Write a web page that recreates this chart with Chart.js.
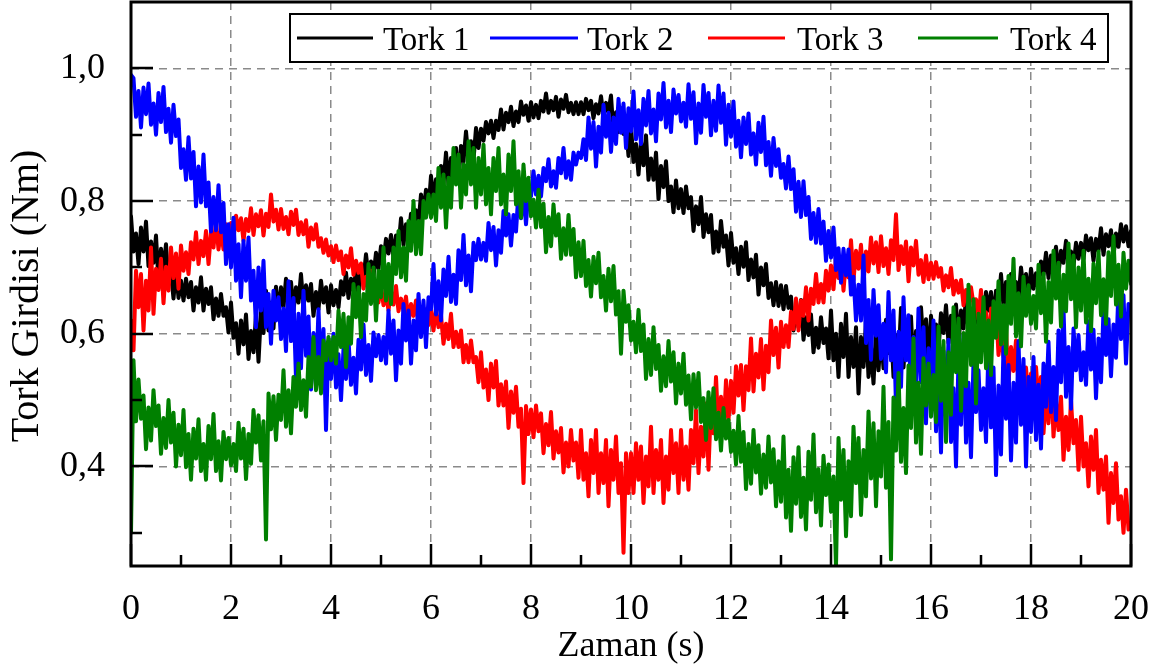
<!DOCTYPE html>
<html>
<head>
<meta charset="utf-8">
<title>Tork Girdisi</title>
<script src="https://cdn.jsdelivr.net/npm/chart.js@4.4.0/dist/chart.umd.min.js"></script>
<style>
  html, body { margin: 0; padding: 0; background: #fff; }
  #kutu { width: 1165px; height: 671px; }
</style>
</head>
<body>
<div id="kutu"><canvas id="torkGrafik" width="1165" height="671"></canvas></div>
<script>
// Örnekleme aralığı (s): her dizi 0 - 20 s arasında 0,05 s adımla okunmuş değerler (her satır 1 s)
const ornekAraligi = 0.05;

const seriAdlari = ['Tork 1', 'Tork 2', 'Tork 3', 'Tork 4'];
const seriRenkleri = ['#000000', '#0000ff', '#ff0000', '#008000'];

// Tork 1 (Nm)
const tork1 = [
  .777,.724,.751,.705,.76,.724,.769,.702,.739,.707,.748,.678,.728,.696,.735,.675,.692,.653,.696,.654,
  .68,.65,.683,.655,.678,.635,.67,.647,.685,.635,.668,.645,.67,.622,.653,.627,.66,.627,.64,.602,
  .647,.594,.616,.57,.62,.584,.629,.562,.604,.572,.628,.558,.633,.601,.665,.605,.647,.608,.671,.629,
  .67,.64,.683,.655,.678,.635,.67,.647,.69,.64,.673,.65,.675,.627,.663,.637,.68,.647,.67,.632,
  .673,.643,.666,.64,.679,.659,.692,.654,.683,.665,.696,.656,.70,.682,.72,.686,.709,.687,.722,.698,
  .732,.708,.743,.721,.749,.715,.748,.73,.774,.734,.765,.747,.781,.743,.786,.766,.81,.784,.817,.787,
  .838,.80,.833,.80,.853,.827,.873,.825,.865,.842,.88,.83,.883,.86,.905,.862,.89,.862,.91,.88,
  .909,.891,.919,.902,.921,.895,.921,.907,.938,.908,.933,.919,.942,.913,.935,.919,.95,.93,.944,.921,
  .949,.926,.945,.925,.951,.935,.962,.933,.951,.937,.957,.927,.953,.939,.96,.934,.948,.931,.949,.931,
  .949,.931,.954,.937,.951,.925,.946,.932,.958,.928,.948,.934,.959,.902,.934,.904,.94,.901,.913,.868,
  .912,.859,.886,.84,.89,.854,.899,.832,.864,.832,.873,.803,.853,.821,.86,.80,.822,.783,.831,.789,
  .818,.782,.822,.789,.806,.755,.792,.765,.806,.746,.78,.753,.779,.722,.754,.724,.77,.731,.748,.703,
  .752,.707,.729,.69,.731,.701,.738,.681,.712,.685,.719,.659,.70,.673,.705,.654,.676,.643,.678,.642,
  .673,.637,.672,.639,.656,.605,.637,.61,.651,.591,.625,.598,.629,.572,.609,.579,.625,.586,.608,.563,
  .635,.56,.60,.535,.615,.565,.63,.535,.595,.55,.61,.51,.595,.55,.62,.535,.58,.525,.605,.545,
  .602,.548,.621,.571,.612,.535,.598,.557,.639,.549,.608,.567,.626,.54,.604,.558,.64,.581,.622,.554,
  .627,.582,.614,.575,.631,.601,.643,.586,.627,.60,.644,.584,.635,.608,.655,.604,.636,.603,.648,.612,
  .65,.62,.663,.635,.663,.62,.665,.642,.69,.64,.678,.655,.69,.642,.678,.652,.70,.667,.69,.652,
  .698,.668,.691,.665,.709,.689,.722,.684,.718,.70,.731,.691,.725,.707,.74,.706,.724,.702,.737,.713,
  .737,.713,.748,.726,.744,.71,.743,.725,.759,.719,.75,.732,.756,.718,.751,.731,.765,.739,.762,.732,
  .755
];

// Tork 2 (Nm)
const tork2 = [
  .99,.985,.927,.966,.911,.971,.931,.977,.915,.947,.90,.963,.919,.972,.904,.939,.888,.945,.898,.923,
  .85,.878,.832,.896,.834,.874,.792,.852,.798,.87,.792,.828,.754,.806,.756,.824,.753,.797,.705,.765,
  .70,.775,.68,.735,.655,.74,.68,.745,.65,.695,.61,.70,.635,.71,.61,.66,.585,.665,.62,.655,
  .592,.638,.574,.679,.589,.654,.532,.63,.548,.665,.567,.626,.516,.601,.526,.637,.535,.607,.455,.588,
  .532,.60,.519,.569,.50,.577,.532,.591,.523,.564,.51,.591,.546,.614,.538,.583,.529,.602,.566,.598,
  .56,.595,.555,.635,.57,.62,.53,.605,.555,.645,.59,.635,.555,.62,.575,.66,.595,.65,.58,.655,
  .637,.705,.629,.679,.62,.697,.657,.716,.648,.689,.645,.726,.681,.749,.673,.718,.664,.737,.711,.743,
  .712,.737,.71,.767,.726,.761,.703,.756,.722,.785,.748,.78,.733,.779,.754,.814,.774,.813,.765,.818,
  .807,.845,.81,.838,.807,.85,.83,.863,.822,.845,.82,.865,.842,.88,.835,.86,.832,.873,.855,.873,
  .865,.893,.862,.926,.879,.919,.852,.912,.873,.945,.897,.933,.874,.926,.886,.954,.903,.947,.88,.94,
  .905,.965,.893,.937,.886,.954,.914,.966,.902,.938,.89,.962,.923,.978,.911,.951,.904,.968,.932,.96,
  .92,.948,.912,.976,.924,.964,.887,.947,.903,.975,.927,.963,.899,.951,.906,.974,.918,.962,.885,.945,
  .897,.95,.882,.921,.866,.926,.886,.932,.87,.902,.855,.918,.874,.927,.854,.889,.838,.895,.853,.878,
  .835,.856,.819,.867,.818,.848,.784,.829,.776,.83,.779,.806,.743,.782,.737,.788,.736,.769,.71,.755,
  .715,.76,.696,.729,.677,.728,.688,.727,.659,.686,.62,.674,.62,.718,.586,.651,.561,.666,.597,.643,
  .562,.615,.542,.663,.56,.635,.49,.603,.52,.655,.56,.628,.497,.595,.51,.638,.527,.61,.465,.578,
  .485,.62,.453,.552,.421,.574,.474,.591,.437,.518,.40,.562,.463,.598,.436,.526,.414,.558,.482,.545,
  .455,.518,.437,.581,.459,.549,.387,.522,.418,.58,.472,.553,.409,.526,.436,.589,.463,.562,.40,.535,
  .452,.565,.44,.523,.427,.555,.49,.588,.482,.55,.47,.605,.527,.64,.505,.58,.487,.608,.545,.598,
  .53,.572,.523,.619,.546,.606,.503,.593,.527,.635,.568,.622,.536,.614,.564,.666,.592,.658,.555,.645,
  .63
];

// Tork 3 (Nm)
const tork3 = [
  .62,.575,.695,.64,.69,.605,.68,.635,.73,.63,.698,.666,.713,.646,.701,.665,.73,.684,.721,.668,
  .733,.695,.723,.69,.738,.712,.753,.705,.74,.717,.755,.705,.753,.73,.77,.727,.755,.727,.765,.735,
  .767,.743,.778,.756,.774,.74,.773,.755,.789,.749,.78,.762,.786,.748,.781,.761,.81,.769,.787,.757,
  .788,.758,.776,.75,.784,.764,.787,.749,.768,.75,.771,.731,.76,.742,.765,.731,.744,.722,.742,.718,
  .732,.708,.733,.711,.724,.69,.718,.70,.729,.689,.71,.692,.706,.668,.686,.666,.695,.669,.677,.647,
  .673,.643,.661,.635,.664,.644,.672,.634,.653,.635,.656,.616,.645,.627,.65,.616,.629,.607,.637,.613,
  .635,.605,.638,.61,.628,.585,.615,.592,.63,.58,.603,.58,.605,.557,.583,.557,.59,.557,.565,.527,
  .572,.519,.546,.50,.555,.519,.559,.492,.524,.492,.528,.458,.513,.481,.52,.46,.487,.375,.491,.449,
  .486,.444,.492,.453,.48,.42,.464,.432,.482,.412,.453,.421,.458,.391,.436,.40,.455,.409,.436,.383,
  .455,.38,.42,.355,.44,.39,.455,.36,.42,.375,.44,.34,.425,.38,.445,.36,.405,.27,.42,.36,
  .42,.36,.435,.38,.43,.345,.415,.37,.46,.36,.425,.38,.44,.345,.415,.365,.455,.39,.435,.36,
  .455,.38,.43,.365,.455,.405,.485,.39,.46,.415,.495,.395,.495,.45,.535,.45,.505,.45,.53,.47,
  .529,.481,.551,.507,.553,.485,.551,.515,.593,.513,.57,.534,.592,.516,.582,.542,.62,.568,.609,.549,
  .618,.58,.613,.58,.633,.607,.653,.605,.65,.627,.67,.62,.668,.645,.69,.647,.675,.647,.695,.665,
  .703,.667,.717,.684,.716,.665,.712,.685,.741,.681,.725,.698,.734,.677,.724,.694,.745,.706,.738,.693,
  .747,.702,.729,.69,.741,.711,.78,.696,.732,.705,.739,.679,.73,.703,.74,.689,.711,.678,.718,.682,
  .707,.683,.708,.686,.699,.665,.688,.67,.699,.659,.68,.662,.681,.643,.666,.646,.67,.644,.652,.622,
  .666,.606,.632,.58,.638,.598,.644,.568,.601,.565,.607,.527,.58,.544,.59,.522,.548,.504,.549,.501,
  .54,.48,.55,.495,.535,.45,.51,.465,.545,.445,.50,.455,.505,.41,.475,.425,.50,.435,.47,.395,
  .475,.40,.435,.37,.445,.395,.455,.36,.41,.365,.415,.315,.39,.345,.405,.32,.355,.30,.365,.305,
  .31
];

// Tork 4 (Nm)
const tork4 = [
  .30,.56,.468,.531,.472,.507,.426,.489,.439,.515,.461,.492,.419,.473,.428,.50,.436,.481,.40,.463,
  .417,.485,.399,.449,.38,.457,.412,.471,.393,.434,.38,.461,.411,.479,.393,.438,.379,.452,.411,.443,
  .402,.434,.393,.466,.412,.457,.381,.449,.404,.485,.436,.477,.409,.468,.29,.51,.456,.506,.44,.508,
  .47,.545,.46,.515,.45,.535,.49,.555,.485,.53,.475,.565,.52,.595,.515,.565,.51,.59,.56,.595,
  .56,.595,.555,.635,.58,.63,.55,.625,.585,.675,.625,.67,.595,.66,.62,.705,.645,.70,.62,.695,
  .655,.73,.65,.705,.645,.73,.69,.755,.685,.73,.68,.77,.725,.80,.72,.77,.72,.80,.775,.81,
  .775,.81,.77,.85,.79,.84,.76,.835,.79,.88,.825,.87,.79,.855,.81,.89,.825,.88,.79,.865,
  .81,.885,.795,.85,.78,.865,.815,.88,.795,.84,.78,.87,.815,.89,.795,.845,.775,.855,.80,.835,
  .777,.802,.76,.817,.761,.796,.723,.776,.732,.795,.748,.78,.713,.759,.719,.779,.719,.758,.685,.738,
  .687,.74,.672,.711,.656,.716,.676,.722,.655,.687,.635,.698,.649,.702,.629,.664,.57,.665,.618,.643,
  .59,.618,.572,.636,.574,.614,.532,.592,.538,.61,.547,.583,.514,.566,.521,.589,.528,.572,.495,.555,
  .51,.57,.493,.537,.471,.539,.489,.541,.467,.503,.44,.512,.458,.518,.441,.481,.424,.488,.442,.47,
  .422,.454,.403,.476,.407,.452,.366,.434,.374,.455,.391,.432,.359,.418,.368,.445,.376,.426,.34,.408,
  .347,.445,.323,.395,.303,.414,.344,.429,.324,.383,.305,.422,.35,.448,.331,.396,.311,.416,.357,.403,
  .332,.385,.25,.443,.35,.425,.295,.408,.325,.46,.375,.443,.327,.425,.355,.483,.382,.465,.34,.453,
  .385,.52,.368,.467,.26,.504,.424,.541,.407,.488,.39,.552,.458,.593,.436,.526,.419,.563,.492,.555,
  .475,.538,.467,.611,.499,.589,.437,.572,.478,.64,.542,.623,.484,.601,.521,.674,.553,.652,.495,.63,
  .557,.655,.548,.62,.538,.649,.594,.679,.584,.643,.57,.687,.615,.713,.596,.661,.581,.686,.627,.673,
  .615,.657,.608,.704,.631,.691,.588,.678,.617,.725,.653,.707,.611,.689,.634,.736,.652,.718,.61,.70,
  .635,.725,.617,.683,.604,.706,.646,.724,.628,.682,.615,.723,.657,.747,.644,.704,.626,.722,.668,.71,
  .675
];

// Eksen çentikleri
const xAnaCentik = [0, 2, 4, 6, 8, 10, 12, 14, 16, 18, 20];
const xAraCentik = [1, 3, 5, 7, 9, 11, 13, 15, 17, 19];
const yAnaCentik = [0.4, 0.6, 0.8, 1.0];
const yAraCentik = [0.3, 0.5, 0.7, 0.9];

const seriler = [tork1, tork2, tork3, tork4];
// çizim sırası: yeşil en üstte, siyah en altta
const cizimSirasi = [4, 2, 3, 1];

const yaziTipi = '"Liberation Serif", "Times New Roman", serif';

function noktalar(dizi) {
  return dizi.map((v, i) => ({ x: +(i * ornekAraligi).toFixed(2), y: v }));
}

function virgullu(v) {
  return v.toFixed(1).replace('.', ',');
}

function anaMi(liste, v) {
  return liste.some(a => Math.abs(a - v) < 1e-6);
}

// eksen etiketlerinin taşma payını sıfırla, çizim alanı sabit kalsın
function payiSifirla(s) {
  s.paddingLeft = 0;
  s.paddingRight = 0;
  s.paddingTop = 0;
  s.paddingBottom = 0;
}

// Çerçeve, içe dönük çentikler, y ekseni başlığı ve açıklama kutusu
const cerceveEklentisi = {
  id: 'cerceve',
  afterDraw(chart) {
    const ctx = chart.ctx;
    const a = chart.chartArea;
    const xs = chart.scales.x;
    const ys = chart.scales.y;
    ctx.save();
    ctx.strokeStyle = '#000';
    ctx.lineWidth = 2.5;
    ctx.setLineDash([]);
    ctx.beginPath();
    xAnaCentik.forEach(v => {
      const px = Math.round(xs.getPixelForValue(v));
      ctx.moveTo(px, a.bottom); ctx.lineTo(px, a.bottom - 22);
    });
    xAraCentik.forEach(v => {
      const px = Math.round(xs.getPixelForValue(v));
      ctx.moveTo(px, a.bottom); ctx.lineTo(px, a.bottom - 11);
    });
    yAnaCentik.forEach(v => {
      const py = Math.round(ys.getPixelForValue(v));
      ctx.moveTo(a.left, py); ctx.lineTo(a.left + 22, py);
    });
    yAraCentik.forEach(v => {
      const py = Math.round(ys.getPixelForValue(v));
      ctx.moveTo(a.left, py); ctx.lineTo(a.left + 11, py);
    });
    ctx.stroke();

    ctx.lineWidth = 3;
    ctx.strokeRect(a.left, a.top, a.right - a.left, a.bottom - a.top);

    // y ekseni başlığı
    ctx.save();
    ctx.translate(38, 296);
    ctx.rotate(-Math.PI / 2);
    ctx.font = '40px ' + yaziTipi;
    ctx.fillStyle = '#000';
    ctx.textAlign = 'center';
    ctx.textBaseline = 'alphabetic';
    ctx.fillText('Tork Girdisi (Nm)', 0, 0);
    ctx.restore();

    // açıklama kutusu
    ctx.fillStyle = '#fff';
    ctx.fillRect(290, 14, 818, 48);
    ctx.lineWidth = 2;
    ctx.strokeRect(290, 14, 818, 48);
    const ornekler = [[297, 373, 383], [490, 578, 587], [708, 785, 797], [918, 998, 1010]];
    ctx.font = '33px ' + yaziTipi;
    ctx.textBaseline = 'alphabetic';
    ctx.textAlign = 'left';
    ornekler.forEach((o, i) => {
      ctx.strokeStyle = seriRenkleri[i];
      ctx.lineWidth = 3;
      ctx.beginPath();
      ctx.moveTo(o[0], 38); ctx.lineTo(o[1], 38);
      ctx.stroke();
      ctx.fillStyle = '#000';
      ctx.fillText(seriAdlari[i], o[2], 50);
    });
    ctx.restore();
  }
};

const grafik = new Chart(document.getElementById('torkGrafik'), {
  type: 'line',
  data: {
    datasets: seriler.map((dizi, i) => ({
      label: seriAdlari[i],
      data: noktalar(dizi),
      borderColor: seriRenkleri[i],
      backgroundColor: seriRenkleri[i],
      borderWidth: 4,
      borderJoinStyle: 'round',
      borderCapStyle: 'round',
      pointRadius: 0,
      tension: 0,
      fill: false,
      order: cizimSirasi[i]
    }))
  },
  options: {
    responsive: false,
    animation: false,
    devicePixelRatio: 1,
    layout: { padding: { top: 2, right: 34, bottom: 0, left: 0 } },
    plugins: {
      legend: { display: false },
      tooltip: { enabled: false }
    },
    scales: {
      x: {
        type: 'linear',
        min: 0,
        max: 20,
        afterBuildTicks: s => { s.ticks = xAnaCentik.concat(xAraCentik).sort((p, q) => p - q).map(v => ({ value: v })); },
        afterFit: s => { s.height = 105; payiSifirla(s); },
        ticks: {
          autoSkip: false,
          maxRotation: 0,
          padding: 22,
          color: '#000',
          font: { family: yaziTipi, size: 36 },
          callback: v => anaMi(xAnaCentik, v) ? String(v) : ''
        },
        grid: {
          drawTicks: false,
          lineWidth: 1.5,
          color: c => (c.tick && anaMi(xAnaCentik, c.tick.value) && c.tick.value > 0 && c.tick.value < 20) ? '#8a8a8a' : 'rgba(0,0,0,0)'
        },
        border: { display: false, dash: [8, 6] },
        title: {
          display: true,
          text: 'Zaman (s)',
          color: '#000',
          font: { family: yaziTipi, size: 36 },
          padding: { top: 0, bottom: 3 }
        }
      },
      y: {
        type: 'linear',
        min: 0.25,
        max: 1.1,
        afterBuildTicks: s => { s.ticks = yAraCentik.concat(yAnaCentik).sort((p, q) => p - q).map(v => ({ value: v })); },
        afterFit: s => { s.width = 131; payiSifirla(s); },
        ticks: {
          autoSkip: false,
          padding: 26,
          color: '#000',
          font: { family: yaziTipi, size: 36 },
          callback: v => anaMi(yAnaCentik, v) ? virgullu(v) : ''
        },
        grid: {
          drawTicks: false,
          lineWidth: 1.5,
          color: c => (c.tick && anaMi(yAnaCentik, c.tick.value)) ? '#8a8a8a' : 'rgba(0,0,0,0)'
        },
        border: { display: false, dash: [8, 6] },
        title: { display: false }
      }
    }
  },
  plugins: [cerceveEklentisi]
});
</script>
</body>
</html>
